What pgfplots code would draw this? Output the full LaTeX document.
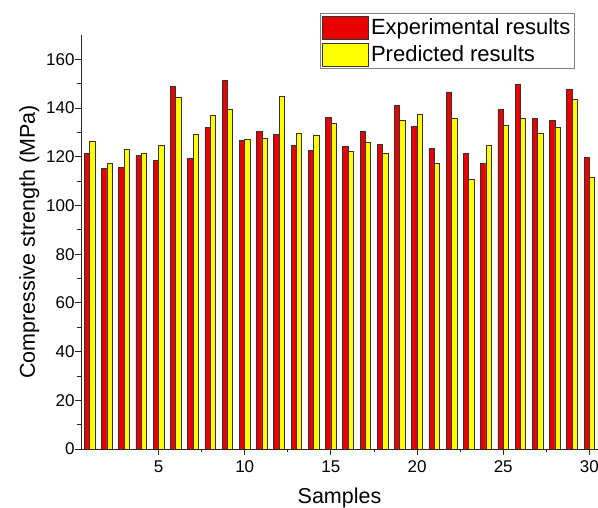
\documentclass[border=0pt]{standalone}
\usepackage{fontspec}
\setmainfont{Liberation Sans}
\usepackage{pgfplots}
\pgfplotsset{compat=1.18}
\definecolor{expred}{RGB}{232,0,0}
\definecolor{predyel}{RGB}{255,255,0}
\begin{document}
\begin{tikzpicture}
\useasboundingbox (0,0) rectangle (598pt,508pt);
\begin{axis}[
  at={(81pt,59pt)}, anchor=south west,
  width=517pt, height=414pt, scale only axis,
  xmin=0.5, xmax=30.5, ymin=0, ymax=170,
  axis x line*=bottom, axis y line*=left,
  axis line style={-, line width=0.8pt, black!85},
  xtick={5,10,15,20,25,30},
  ytick={0,20,40,60,80,100,120,140,160},
  minor x tick num=1, minor y tick num=1,
  tick align=outside,
  major tick length=6pt, minor tick length=3.5pt,
  tick style={line width=0.8pt, black!85},
  /pgf/number format/assume math mode=true,
  ticklabel style={font=\fontsize{17}{19}\selectfont},
  yticklabel style={xshift=3pt},
  xticklabel style={yshift=-2pt},
  xlabel={Samples}, ylabel={Compressive strength (MPa)},
  label style={font=\fontsize{21.5}{24}\selectfont},
  xlabel style={yshift=-8pt},
  ylabel style={yshift=0pt},
  ybar, bar width=0.31,
  legend style={at={(rel axis cs:0.462,1.052)}, anchor=north west,
    draw=gray, line width=0.8pt, font=\fontsize{22}{25}\selectfont,
    inner xsep=2pt, inner ysep=2pt, row sep=3pt, cells={anchor=west}},
  legend image code/.code={\draw[#1, draw=black!80, line width=0.8pt] (0pt,-11.5pt) rectangle (46pt,11.5pt);},
]
\addplot[fill=expred, draw=black!80, line width=0.7pt, bar shift=-0.155] coordinates {
(1,121.5) (2,115.1) (3,115.6) (4,120.5) (5,118.4) (6,149.0) (7,119.2) (8,132.0) (9,151.4) (10,126.6)
(11,130.3) (12,129.2) (13,124.7) (14,122.6) (15,136.0) (16,124.2) (17,130.5) (18,125.2) (19,141.1) (20,132.3)
(21,123.4) (22,146.6) (23,121.5) (24,117.3) (25,139.6) (26,149.7) (27,135.6) (28,134.8) (29,147.7) (30,119.9)
};
\addplot[fill=predyel, draw=black!80, line width=0.7pt, bar shift=0.155] coordinates {
(1,126.4) (2,117.1) (3,122.9) (4,121.5) (5,124.7) (6,144.2) (7,129.3) (8,137.0) (9,139.6) (10,127.1)
(11,127.4) (12,144.9) (13,129.7) (14,128.9) (15,133.7) (16,122.1) (17,126.0) (18,121.5) (19,135.1) (20,137.3)
(21,117.3) (22,135.6) (23,110.7) (24,124.5) (25,133.0) (26,135.9) (27,129.7) (28,132.0) (29,143.7) (30,111.4)
};
\legend{Experimental results, Predicted results}
\end{axis}
\end{tikzpicture}
\end{document}
